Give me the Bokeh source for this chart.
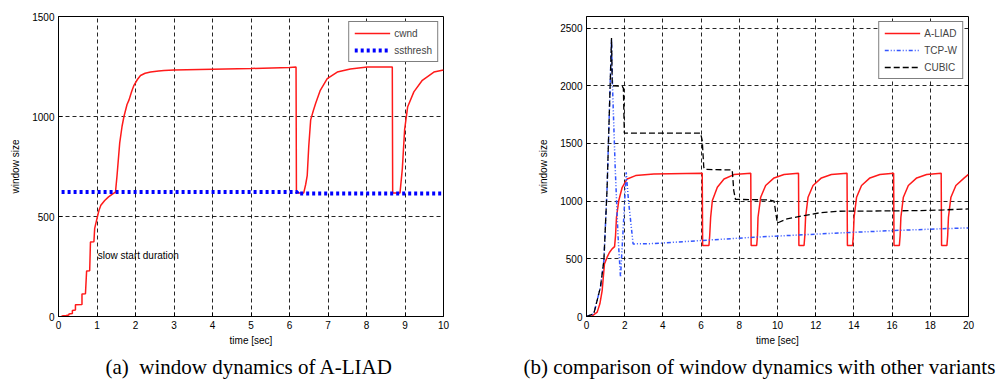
from bokeh.plotting import figure
from bokeh.layouts import row
from bokeh.models import FixedTicker, Title, Label, Range1d
from bokeh.embed import file_html
from bokeh.resources import INLINE

# ---------------- data: (a) window dynamics of A-LIAD ----------------
cwnd_t = [0.08, 0.20, 0.27, 0.27, 0.36, 0.36, 0.44, 0.44, 0.61, 0.61, 0.70, 0.73, 0.81, 0.83,
          0.92, 0.94, 1.00, 1.05, 1.10, 1.20, 1.30, 1.40, 1.48, 1.52, 1.59, 1.65, 1.70, 1.78,
          1.83, 1.90, 1.96, 2.05, 2.13, 2.25, 2.39, 2.60, 2.74, 3.00, 4.00, 5.00, 6.00, 6.17,
          6.18, 6.37, 6.42, 6.46, 6.50, 6.55, 6.62, 6.68, 6.80, 6.98, 7.24, 7.58, 8.02, 8.67,
          8.68, 8.87, 8.93, 8.99, 9.07, 9.23, 9.45, 9.75, 10.0]
cwnd_v = [2, 5, 8, 13, 15, 30, 32, 59, 60, 112, 114, 227, 229, 372,
          374, 441, 490, 530, 556, 580, 598, 612, 622, 704, 868, 950, 1000, 1060,
          1082, 1125, 1156, 1185, 1205, 1216, 1222, 1228, 1230, 1232, 1236, 1240, 1245, 1247,
          618, 618, 660, 704, 850, 983, 1030, 1066, 1131, 1189, 1222, 1238, 1247, 1247,
          618, 618, 737, 934, 1049, 1123, 1181, 1222, 1233]
ssthresh_t = [0.08, 6.2, 6.2, 10.0]
ssthresh_v = [622, 622, 615, 615]

# ---------------- data: (b) comparison with other variants ----------------
aliad_t = [0, 0.3, 0.56, 0.7, 0.82, 0.94, 1.08, 1.2, 1.34, 1.47, 1.52, 1.57, 1.69, 1.87, 2.13,
           2.57, 3.53, 6.06, 6.08, 6.41, 6.45, 6.5, 6.59, 6.85, 7.2, 7.72, 8.6, 8.62, 8.91,
           8.95, 8.98, 9.12, 9.38, 9.82, 10.34, 11.1, 11.12, 11.39, 11.43, 11.47, 11.6, 11.86,
           12.3, 12.82, 13.64, 13.66, 13.93, 13.97, 14.01, 14.14, 14.4, 14.84, 15.36, 16.08,
           16.1, 16.38, 16.42, 16.46, 16.59, 16.85, 17.29, 17.81, 18.57, 18.59, 18.87, 18.91,
           18.95, 19.08, 19.34, 19.78, 20.0]
aliad_v = [0, 5, 38, 110, 225, 456, 514, 555, 586, 606, 700, 860, 1005, 1120, 1192,
           1221, 1236, 1241, 615, 615, 700, 860, 1005, 1120, 1192, 1230, 1241, 615, 615,
           700, 860, 1034, 1135, 1201, 1230, 1241, 615, 615, 700, 860, 1034, 1135,
           1201, 1230, 1241, 615, 615, 700, 860, 1034, 1135, 1201, 1230, 1241,
           615, 615, 700, 860, 1034, 1135, 1201, 1230, 1241, 615, 615, 700,
           860, 1034, 1135, 1201, 1232]
tcpw_t = [0, 0.38, 0.73, 0.91, 1.08, 1.26, 1.31, 1.36, 1.5, 1.65, 1.78, 1.9, 2.08, 2.2, 2.44,
          3.53, 5.97, 8.77, 12.26, 14.0, 16.1, 18.38, 20.0]
tcpw_v = [0, 23, 254, 485, 1120, 2130, 2400, 2000, 1300, 700, 340, 700, 1250, 1000, 629,
          632, 658, 687, 716, 730, 745, 759, 768]
cubic_t = [0, 0.38, 0.73, 0.91, 1.08, 1.26, 1.31, 1.35, 1.87, 1.93, 1.98, 5.97, 6.06, 6.14,
           6.2, 7.63, 7.71, 7.8, 9.6, 9.82, 9.99, 10.5, 11.39, 12.26, 13.14, 14.0, 15.76,
           17.5, 18.7, 20.0]
cubic_v = [0, 23, 254, 485, 1120, 2130, 2413, 2000, 1995, 1980, 1590, 1590, 1524, 1293,
           1275, 1270, 1091, 1015, 1010, 1000, 810, 846, 875, 900, 912, 913, 915,
           918, 924, 932]

xticks_a = [0, 1, 2, 3, 4, 5, 6, 7, 8, 9, 10]
yticks_a = [0, 500, 1000, 1500]
xticks_b = [0, 2, 4, 6, 8, 10, 12, 14, 16, 18, 20]
yticks_b = [0, 500, 1000, 1500, 2000, 2500]

SANS = "Liberation Sans"
SERIF = "Liberation Serif"


def style(p, xt, yt):
    p.xaxis.ticker = FixedTicker(ticks=xt)
    p.yaxis.ticker = FixedTicker(ticks=yt)
    for ax in (p.xaxis[0], p.yaxis[0]):
        ax.major_tick_in = 4
        ax.major_tick_out = 0
        ax.minor_tick_line_color = None
        ax.axis_line_color = "black"
        ax.major_tick_line_color = "black"
        ax.major_label_text_font = SANS
        ax.major_label_text_font_size = "10px"
        ax.major_label_text_color = "black"
        ax.axis_label_text_font = SANS
        ax.axis_label_text_font_size = "10px"
        ax.axis_label_text_font_style = "normal"
        ax.axis_label_text_color = "black"
    p.xaxis.major_label_standoff = 4
    p.yaxis.major_label_standoff = 4
    p.xaxis.axis_label_standoff = 3
    p.yaxis.axis_label_standoff = 8
    p.xaxis.axis_label = "time [sec]"
    p.yaxis.axis_label = "window size"
    for g in (p.xgrid[0], p.ygrid[0]):
        g.grid_line_color = "black"
        g.grid_line_dash = "4 3"
        g.grid_line_alpha = 0.85
        g.grid_line_width = 1
    p.outline_line_color = "black"
    p.outline_line_alpha = 1
    p.background_fill_color = "white"
    p.border_fill_color = "white"


def legend_style(p):
    lg = p.legend[0]
    lg.location = "top_right"
    lg.margin = 5
    lg.padding = 5
    lg.spacing = 5
    lg.glyph_width = 36
    lg.glyph_height = 12
    lg.label_height = 12
    lg.label_standoff = 4
    lg.label_text_font = SANS
    lg.label_text_font_size = "10px"
    lg.border_line_color = "black"
    lg.border_line_width = 1
    lg.background_fill_alpha = 1


# ---------------- figure (a) ----------------
p1 = figure(width=515, height=385, x_range=Range1d(0, 10), y_range=Range1d(0, 1500),
            output_backend="svg", toolbar_location=None,
            min_border_left=58, min_border_right=72, min_border_top=12, min_border_bottom=69)
style(p1, xticks_a, yticks_a)
p1.line(cwnd_t, cwnd_v, line_color="#ff1a1a", line_width=1.5, legend_label="cwnd")
p1.line(ssthresh_t, ssthresh_v, line_color="#0000ff", line_width=4, line_dash="3 3",
        legend_label="ssthresh")
legend_style(p1)
p1.add_layout(Label(x=1.02, y=306, text="slow start duration", text_font=SANS,
                    text_font_size="10px", text_baseline="middle", text_color="black"))
p1.add_layout(Title(text="(a)\u00a0 window dynamics of A-LIAD", text_font=SERIF,
                    text_font_size="21px", text_font_style="normal", align="left",
                    offset=47, standoff=8, text_color="black"), "below")

# ---------------- figure (b) ----------------
p2 = figure(width=488, height=385, x_range=Range1d(0, 20), y_range=Range1d(0, 2600),
            output_backend="svg", toolbar_location=None,
            min_border_left=71, min_border_right=35, min_border_top=16, min_border_bottom=69)
style(p2, xticks_b, yticks_b)
p2.line(aliad_t, aliad_v, line_color="#ff1a1a", line_width=1.5, legend_label="A-LIAD")
p2.line(tcpw_t, tcpw_v, line_color="#3355ff", line_width=1.5, line_dash="4 2 1 2 1 2",
        legend_label="TCP-W")
p2.line(cubic_t, cubic_v, line_color="black", line_width=1.3, line_dash="6 3",
        legend_label="CUBIC")
legend_style(p2)
p2.add_layout(Title(text="(b) comparison of window dynamics with other variants",
                    text_font=SERIF, text_font_size="21px", text_font_style="normal",
                    align="left", offset=-63, standoff=8, text_color="black"), "below")

layout = row(p1, p2)
open("out.html", "w").write(file_html(layout, INLINE))
